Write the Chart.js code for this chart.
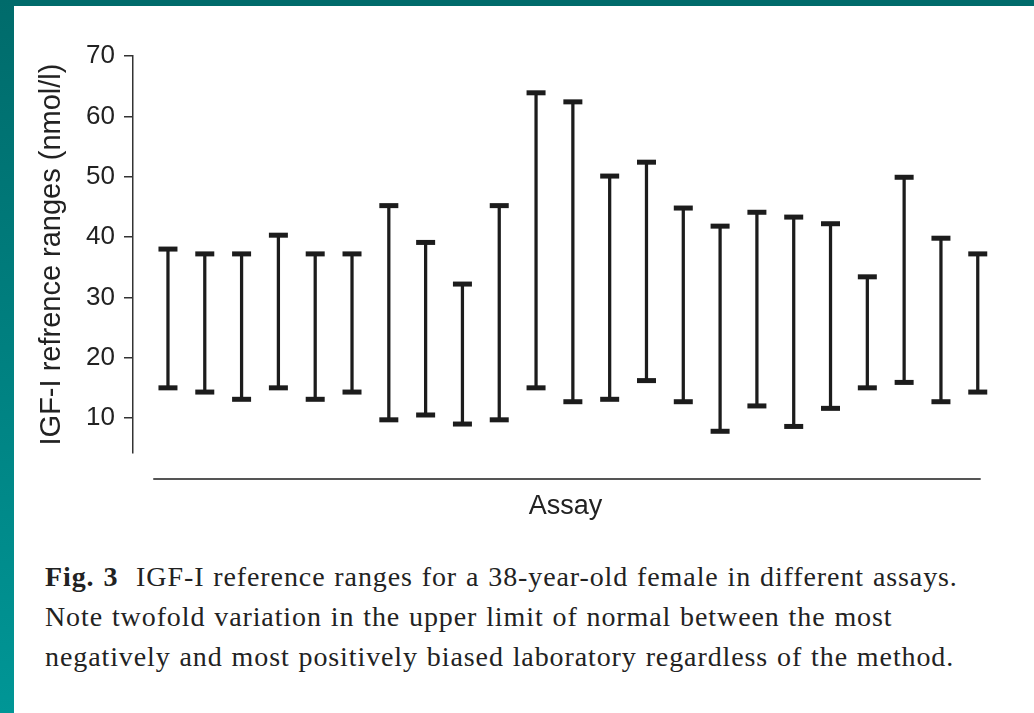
<!DOCTYPE html>
<html>
<head>
<meta charset="utf-8">
<title>IGF-I reference ranges</title>
<script src="https://cdn.jsdelivr.net/npm/chart.js@4.4.0/dist/chart.umd.min.js"></script>
<style>
  html, body { margin: 0; padding: 0; background: #fff; }
  #wrap { position: relative; width: 1034px; height: 713px; overflow: hidden; background: #fff; }
  #chart { position: absolute; left: 0; top: 0; }
  /* teal slide frame */
  #frameTop { position: absolute; left: 0; top: 0; width: 1034px; height: 6px; background: #006b6b; }
  #frameLeft { position: absolute; left: 0; top: 0; width: 14px; height: 713px;
               background: linear-gradient(#006b6b, #009696); }
  #caption { position: absolute; left: 45px; top: 557px; font-family: "Liberation Serif", "Times New Roman", serif;
             font-size: 28px; letter-spacing: 0.9px; word-spacing: 1px; line-height: 40px; color: #222; white-space: nowrap; }
</style>
</head>
<body>
<div id="wrap">
  <canvas id="chart" width="1034" height="540"></canvas>
  <div id="frameTop"></div>
  <div id="frameLeft"></div>
  <div id="caption"><b>Fig. 3</b>&nbsp; IGF-I reference ranges for a 38-year-old female in different assays.<br>Note twofold variation in the upper limit of normal between the most<br>negatively and most positively biased laboratory regardless of the method.</div>
</div>
<script>
// Ensayos (1..23) y limites inferior / superior del rango de referencia, nmol/l
var ensayos = [1, 2, 3, 4, 5, 6, 7, 8, 9, 10, 11, 12, 13, 14, 15, 16, 17, 18, 19, 20, 21, 22, 23];
var limiteInferior = [15.0, 14.3, 13.1, 15.0, 13.1, 14.3, 9.7, 10.5, 9.0, 9.7, 15.0, 12.7, 13.1, 16.2, 12.7, 7.8, 12.0, 8.6, 11.6, 15.0, 15.9, 12.7, 14.3];
var limiteSuperior = [38.0, 37.2, 37.2, 40.3, 37.2, 37.2, 45.2, 39.1, 32.2, 45.2, 63.9, 62.4, 50.1, 52.4, 44.8, 41.8, 44.1, 43.3, 42.2, 33.4, 49.9, 39.8, 37.2];
var marcasY = [10, 20, 30, 40, 50, 60, 70];

var colorBarra = '#1c1c1c';

// Barras flotantes [inferior, superior]
var rangos = ensayos.map(function (e, i) {
    return { x: e, y: [limiteInferior[i], limiteSuperior[i]] };
});
var topesInf = ensayos.map(function (e, i) { return { x: e, y: limiteInferior[i] }; });
var topesSup = ensayos.map(function (e, i) { return { x: e, y: limiteSuperior[i] }; });

// Linea horizontal separada bajo el grafico (eje de ensayos)
var lineaEnsayos = {
    id: 'lineaEnsayos',
    afterDraw: function (chart) {
        var ctx = chart.ctx;
        var xs = chart.scales.x;
        var y = chart.chartArea.bottom + 26;
        ctx.save();
        ctx.strokeStyle = '#555';
        ctx.lineWidth = 2;
        ctx.beginPath();
        ctx.moveTo(xs.getPixelForValue(0.6), y);
        ctx.lineTo(xs.getPixelForValue(23.08), y);
        ctx.stroke();
        ctx.restore();
    }
};

var ctx = document.getElementById('chart').getContext('2d');

var grafico = new Chart(ctx, {
    type: 'bar',
    data: {
        datasets: [{
            type: 'line',
            data: topesInf,
            showLine: false,
            pointStyle: 'line',
            pointRadius: 9.5,
            pointBorderWidth: 5,
            pointBorderColor: colorBarra,
            order: 0
        }, {
            type: 'line',
            data: topesSup,
            showLine: false,
            pointStyle: 'line',
            pointRadius: 9.5,
            pointBorderWidth: 5,
            pointBorderColor: colorBarra,
            order: 0
        }, {
            type: 'bar',
            data: rangos,
            backgroundColor: colorBarra,
            barThickness: 2.6,
            order: 1
        }]
    },
    options: {
        responsive: false,
        animation: false,
        events: [],
        layout: { padding: { left: 14, top: 56, right: 36, bottom: 0 } },
        plugins: {
            legend: { display: false },
            tooltip: { enabled: false }
        },
        scales: {
            x: {
                type: 'linear',
                offset: false,
                min: 0.05,
                max: 23.55,
                grid: { display: false, drawTicks: false, offset: false },
                border: { display: false },
                ticks: { display: false },
                title: {
                    display: true,
                    text: 'Assay',
                    color: '#222',
                    font: { family: 'Liberation Sans, Arial, sans-serif', size: 27 },
                    padding: { top: 37.6, bottom: 17 }
                }
            },
            y: {
                min: 4.2,
                max: 70,
                afterBuildTicks: function (scale) {
                    scale.ticks = marcasY.map(function (v) { return { value: v }; });
                },
                afterFit: function (scale) {
                    scale.width = 119;
                },
                grid: { drawOnChartArea: false, drawTicks: true, tickLength: 9, color: '#333', lineWidth: 1.5 },
                border: { display: true, color: '#333', width: 1.5 },
                ticks: {
                    color: '#222',
                    padding: 9,
                    font: { family: 'Liberation Sans, Arial, sans-serif', size: 26 }
                },
                title: {
                    display: true,
                    text: 'IGF-I refrence ranges (nmol/l)',
                    color: '#222',
                    font: { family: 'Liberation Sans, Arial, sans-serif', size: 29 },
                    padding: { top: 21, bottom: 0 }
                }
            }
        }
    },
    plugins: [lineaEnsayos]
});
</script>
</body>
</html>
